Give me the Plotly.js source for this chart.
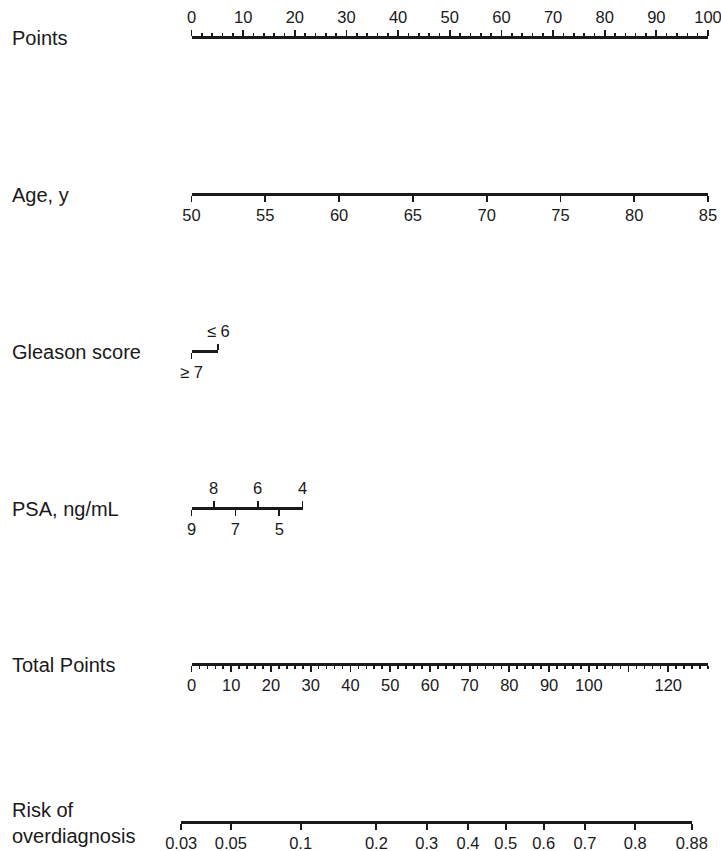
<!DOCTYPE html>
<html><head><meta charset="utf-8">
<script src="https://cdn.plot.ly/plotly-3.0.1.min.js"></script>
<style>html,body{margin:0;padding:0;background:#fff}</style>
</head><body><div id="chart" style="width:721px;height:851px"></div>
<script>
// ---- data ----
const rowLabels = ['Points', 'Age, y', 'Gleason score', 'PSA, ng/mL', 'Total Points', 'Risk of<br>overdiagnosis'];
const pointsMax = 100;
const pointsTicks = [0, 10, 20, 30, 40, 50, 60, 70, 80, 90, 100];
const ageRange = [50, 85];
const ageTicks = [50, 55, 60, 65, 70, 75, 80, 85];
const gleasonLabels = ['≥ 7', '≤ 6'];
const gleasonPoints = [0, 5.2];
const psaValues = [9, 8, 7, 6, 5, 4];
const psaPoints = [0, 4.3, 8.5, 12.8, 17.0, 21.5];
const totalMax = 130;
const totalTicks = [0, 10, 20, 30, 40, 50, 60, 70, 80, 90, 100, 110, 120];
const totalTickLabels = ['0', '10', '20', '30', '40', '50', '60', '70', '80', '90', '100', '', '120'];
const riskTicks = [0.03, 0.05, 0.1, 0.2, 0.3, 0.4, 0.5, 0.6, 0.7, 0.8, 0.88];
const riskTickLabels = ['0.03', '0.05', '0.1', '0.2', '0.3', '0.4', '0.5', '0.6', '0.7', '0.8', '0.88'];
const riskIntercept = -3.366;   // logit(risk) = a + b * total points
const riskSlope = 0.04255;

// ---- layout helpers ----
const W = 721, H = 851;
const d0 = 191.5 / W, d1 = 708 / W;         // points scale extent (paper)
const rowY = [37, 194, 351, 508, 664, 822];  // axis line positions (px)
const py = p => 1 - p / H;
const totToRisk = p => (Math.log(p / (1 - p)) - riskIntercept) / riskSlope;
const ink = '#1a1a1a';
const FONT = 'Liberation Sans, Arial, Helvetica, sans-serif';
const tickFont = {family: FONT, size: 16.5, color: ink};

function baseAxis(extra) {
  return Object.assign({
    anchor: 'free', showline: true, linecolor: ink, linewidth: 2.5,
    ticks: 'outside', ticklen: 6, tickwidth: 1.8, tickcolor: ink,
    showgrid: false, zeroline: false, fixedrange: true, ticklabeloverflow: 'allow',
    tickfont: tickFont, tickmode: 'array'
  }, extra);
}
const ptsDomain = maxPts => [d0, d0 + (maxPts / pointsMax) * (d1 - d0)];

const gMax = Math.max(...gleasonPoints);
const pMax = Math.max(...psaPoints);
const upIdx = arr => arr.map((v, i) => i).filter(i => i % 2 === 1);
const dnIdx = arr => arr.map((v, i) => i).filter(i => i % 2 === 0);

const rLo = totToRisk(riskTicks[0]), rHi = totToRisk(riskTicks[riskTicks.length - 1]);
const riskDomain = [d0 + rLo / totalMax * (d1 - d0), d0 + rHi / totalMax * (d1 - d0)];
const minorTicks = {tickmode: 'linear', tick0: 0, dtick: 2, ticks: 'outside', ticklen: 3, tickwidth: 1.6, tickcolor: ink};

const layout = {
  width: W, height: H, margin: {l: 0, r: 0, t: 0, b: 0},
  paper_bgcolor: '#fff', plot_bgcolor: 'rgba(0,0,0,0)', showlegend: false,
  font: {family: FONT, color: ink},
  yaxis: {domain: [0, 1], range: [0, 1], visible: false, fixedrange: true},
  xaxis: baseAxis({domain: [d0, d1], range: [0, pointsMax], side: 'top', position: py(rowY[0]),
    tickvals: pointsTicks, ticktext: pointsTicks.map(String), minor: minorTicks}),
  xaxis2: baseAxis({domain: [d0, d1], range: ageRange, side: 'bottom', position: py(rowY[1]),
    tickvals: ageTicks, ticktext: ageTicks.map(String)}),
  xaxis3: baseAxis({domain: ptsDomain(gMax), range: [0, gMax], side: 'top', position: py(rowY[2]),
    tickvals: upIdx(gleasonPoints).map(i => gleasonPoints[i]), ticktext: upIdx(gleasonPoints).map(i => gleasonLabels[i])}),
  xaxis4: baseAxis({domain: ptsDomain(gMax), range: [0, gMax], side: 'bottom', position: py(rowY[2]),
    tickvals: dnIdx(gleasonPoints).map(i => gleasonPoints[i]), ticktext: dnIdx(gleasonPoints).map(i => gleasonLabels[i])}),
  xaxis5: baseAxis({domain: ptsDomain(pMax), range: [0, pMax], side: 'top', position: py(rowY[3]),
    tickvals: upIdx(psaPoints).map(i => psaPoints[i]), ticktext: upIdx(psaPoints).map(i => String(psaValues[i]))}),
  xaxis6: baseAxis({domain: ptsDomain(pMax), range: [0, pMax], side: 'bottom', position: py(rowY[3]),
    tickvals: dnIdx(psaPoints).map(i => psaPoints[i]), ticktext: dnIdx(psaPoints).map(i => String(psaValues[i]))}),
  xaxis7: baseAxis({domain: [d0, d1], range: [0, totalMax], side: 'bottom', position: py(rowY[4]),
    tickvals: totalTicks, ticktext: totalTickLabels, minor: minorTicks}),
  xaxis8: baseAxis({domain: riskDomain, range: [rLo, rHi], side: 'bottom', position: py(rowY[5]),
    tickvals: riskTicks.map(totToRisk), ticktext: riskTickLabels}),
  annotations: rowLabels.map((t, i) => ({
    text: t, xref: 'paper', yref: 'paper', x: 10 / W, y: py(rowY[i] + 1), xanchor: 'left', yanchor: 'middle',
    align: 'left', showarrow: false, font: {family: FONT, size: 20, color: ink}
  }))
};

const axIds = ['x', 'x2', 'x3', 'x4', 'x5', 'x6', 'x7', 'x8'];
const axKeys = ['xaxis', 'xaxis2', 'xaxis3', 'xaxis4', 'xaxis5', 'xaxis6', 'xaxis7', 'xaxis8'];
const data = axIds.map((id, k) => ({
  type: 'scatter', mode: 'markers', x: [layout[axKeys[k]].range[0]], y: [0.5],
  xaxis: id, yaxis: 'y', marker: {opacity: 0}, hoverinfo: 'skip'
}));

Plotly.newPlot('chart', data, layout, {displayModeBar: false, staticPlot: true});
</script></body></html>
